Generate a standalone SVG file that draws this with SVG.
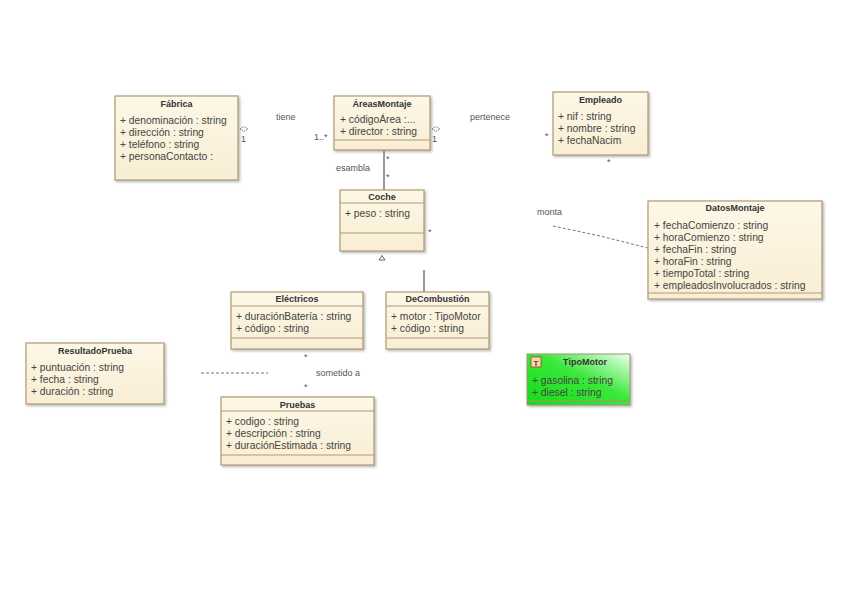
<svg xmlns="http://www.w3.org/2000/svg" width="848" height="599" viewBox="0 0 848 599">
<defs>
<linearGradient id="beige" x1="0" y1="0" x2="0" y2="1">
<stop offset="0" stop-color="#fdf7e7"/>
<stop offset="1" stop-color="#f9eed4"/>
</linearGradient>
<linearGradient id="green" x1="0" y1="1" x2="1" y2="0">
<stop offset="0" stop-color="#16d916"/>
<stop offset="0.55" stop-color="#3be83b"/>
<stop offset="1" stop-color="#f0fff0"/>
</linearGradient>
<filter id="sh" x="-10%" y="-10%" width="130%" height="130%">
<feDropShadow dx="1.5" dy="1.5" stdDeviation="0.8" flood-color="#888" flood-opacity="0.6"/>
</filter>
</defs>
<style>
.box{fill:url(#beige);stroke:#b09a72;stroke-width:1.2;filter:url(#sh)}
.div{stroke:#b09a72;stroke-width:1}
.t{font-family:"Liberation Sans",Arial,sans-serif;font-size:9px;font-weight:bold;fill:#333;text-anchor:middle}
.a{font-family:"Liberation Sans",Arial,sans-serif;font-size:10.3px;fill:#444}
.l{font-family:"Liberation Sans",Arial,sans-serif;font-size:9px;fill:#555}
.m{font-family:"Liberation Sans",Arial,sans-serif;font-size:9px;fill:#555}
.ln{stroke:#555;stroke-width:1.2;fill:none}
.dash{stroke:#777;stroke-width:1;stroke-dasharray:3,2;fill:none}
</style>
<rect width="848" height="599" fill="#fff"/>
<g id="connectors">
<line class="ln" x1="384" y1="150" x2="384" y2="190"/>
<line class="ln" x1="424" y1="270" x2="424" y2="292"/>
<path class="dash" d="M553,226 L600,236 L648,248"/>
<line class="dash" x1="201" y1="373" x2="268" y2="373"/>
<path d="M379,260 L382,255.5 L385,260 Z" fill="none" stroke="#555" stroke-width="0.9"/>
<path d="M240,129 L244,126.5 L248,129 L244,131.5 Z" fill="none" stroke="#555" stroke-width="0.8" stroke-dasharray="1.5,1"/>
<path d="M432,129 L436,126.5 L440,129 L436,131.5 Z" fill="none" stroke="#555" stroke-width="0.8" stroke-dasharray="1.5,1"/>
<text class="m" x="241" y="142">1</text>
<text class="m" x="432" y="142">1</text>
<text class="l" x="276" y="120">tiene</text>
<text class="m" x="314" y="140" fill="#8a7a40">1..*</text>
<text class="l" x="470" y="120">pertenece</text>
<text class="m" x="545" y="139">*</text>
<text class="m" x="607" y="165">*</text>
<text class="m" x="386" y="162">*</text>
<text class="m" x="386" y="180">*</text>
<text class="l" x="336" y="171">esambla</text>
<text class="m" x="428" y="235">*</text>
<text class="l" x="537" y="215" fill="#334466">monta</text>
<text class="m" x="304" y="360">*</text>
<text class="l" x="316" y="376">sometido a</text>
<text class="m" x="304" y="390">*</text>
</g>
<g id="Fabrica">
<rect class="box" x="115" y="96" width="123" height="84"/>
<text class="t" x="176.5" y="107">Fábrica</text>
<text class="a" x="120" y="124">+ denominación : string</text>
<text class="a" x="120" y="136">+ dirección : string</text>
<text class="a" x="120" y="148">+ teléfono : string</text>
<text class="a" x="120" y="160">+ personaContacto :</text>
</g>
<g id="AreasMontaje">
<rect class="box" x="334" y="96" width="96" height="54"/>
<line class="div" x1="334" y1="140" x2="430" y2="140"/>
<text class="t" x="382" y="107">ÁreasMontaje</text>
<text class="a" x="340" y="123">+ códigoÁrea :...</text>
<text class="a" x="340" y="135">+ director : string</text>
</g>
<g id="Empleado">
<rect class="box" x="553" y="92" width="95" height="63"/>
<text class="t" x="600.5" y="103">Empleado</text>
<text class="a" x="558" y="120">+ nif : string</text>
<text class="a" x="558" y="132">+ nombre : string</text>
<text class="a" x="558" y="144">+ fechaNacim</text>
</g>
<g id="Coche">
<rect class="box" x="340" y="190" width="84" height="61"/>
<line class="div" x1="340" y1="203" x2="424" y2="203"/>
<line class="div" x1="340" y1="233" x2="424" y2="233"/>
<text class="t" x="382" y="200">Coche</text>
<text class="a" x="345" y="217">+ peso : string</text>
</g>
<g id="DatosMontaje">
<rect class="box" x="648" y="201" width="174" height="98"/>
<line class="div" x1="648" y1="293" x2="822" y2="293"/>
<text class="t" x="735" y="211">DatosMontaje</text>
<text class="a" x="654" y="229">+ fechaComienzo : string</text>
<text class="a" x="654" y="241">+ horaComienzo : string</text>
<text class="a" x="654" y="253">+ fechaFin : string</text>
<text class="a" x="654" y="265">+ horaFin : string</text>
<text class="a" x="654" y="277">+ tiempoTotal : string</text>
<text class="a" x="654" y="289">+ empleadosInvolucrados : string</text>
</g>
<g id="Electricos">
<rect class="box" x="231" y="292" width="132" height="57"/>
<line class="div" x1="231" y1="306" x2="363" y2="306"/>
<line class="div" x1="231" y1="338" x2="363" y2="338"/>
<text class="t" x="297" y="302">Eléctricos</text>
<text class="a" x="236" y="320">+ duraciónBatería : string</text>
<text class="a" x="236" y="332">+ código : string</text>
</g>
<g id="DeCombustion">
<rect class="box" x="386" y="292" width="103" height="57"/>
<line class="div" x1="386" y1="306" x2="489" y2="306"/>
<line class="div" x1="386" y1="338" x2="489" y2="338"/>
<text class="t" x="437.5" y="302">DeCombustión</text>
<text class="a" x="391" y="320">+ motor : TipoMotor</text>
<text class="a" x="391" y="332">+ código : string</text>
</g>
<g id="ResultadoPrueba">
<rect class="box" x="26" y="343" width="138" height="61"/>
<text class="t" x="95" y="354">ResultadoPrueba</text>
<text class="a" x="31" y="371">+ puntuación : string</text>
<text class="a" x="31" y="383">+ fecha : string</text>
<text class="a" x="31" y="395">+ duración : string</text>
</g>
<g id="Pruebas">
<rect class="box" x="221" y="397" width="153" height="68"/>
<line class="div" x1="221" y1="411" x2="374" y2="411"/>
<line class="div" x1="221" y1="455" x2="374" y2="455"/>
<text class="t" x="297.5" y="408">Pruebas</text>
<text class="a" x="226" y="425">+ codigo : string</text>
<text class="a" x="226" y="437">+ descripción : string</text>
<text class="a" x="226" y="449">+ duraciónEstimada : string</text>
</g>
<g id="TipoMotor">
<rect x="527" y="354" width="103" height="51" fill="url(#green)" stroke="#9a9a70" stroke-width="1" filter="url(#sh)"/>
<line x1="527" y1="401" x2="630" y2="401" stroke="#9a9a70" stroke-width="1"/>
<rect x="531" y="357" width="10" height="10" fill="#f6d8b4" stroke="#a04020" stroke-width="0.8"/>
<text x="536" y="365.5" font-family="Liberation Sans,Arial,sans-serif" font-size="8px" font-weight="bold" fill="#b02010" text-anchor="middle">T</text>
<text class="t" x="585" y="365">TipoMotor</text>
<text class="a" x="532" y="384">+ gasolina : string</text>
<text class="a" x="532" y="396">+ diesel : string</text>
</g>
</svg>
